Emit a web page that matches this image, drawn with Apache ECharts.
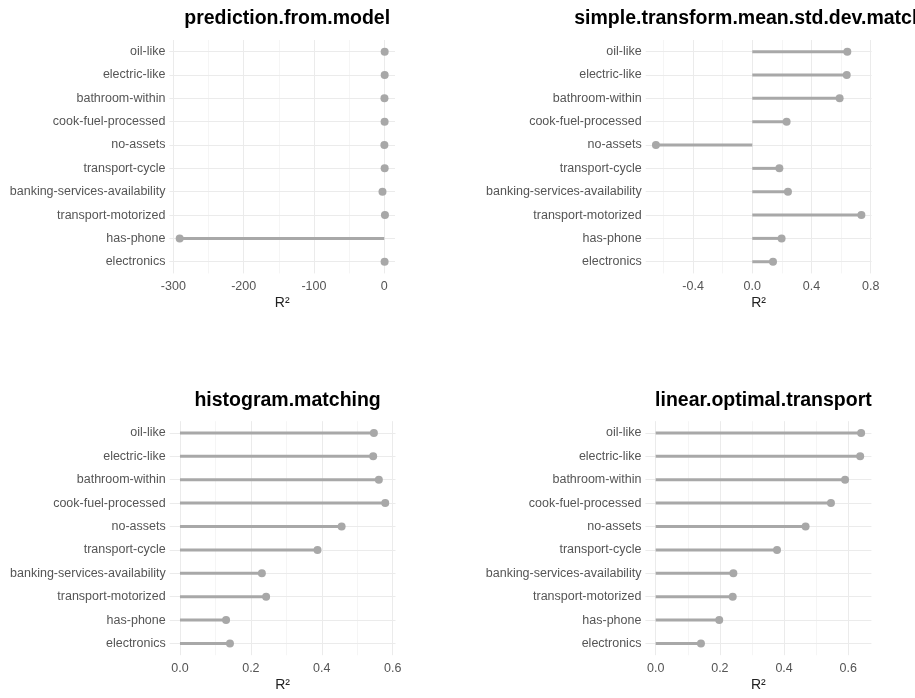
<!DOCTYPE html>
<html>
<head>
<meta charset="utf-8">
<script src="https://cdn.jsdelivr.net/npm/echarts@6/dist/echarts.min.js"></script>
<style>
html,body{margin:0;padding:0;background:#fff;}
#chart{width:915px;height:698px;}
</style>
</head>
<body>
<div id="chart"></div>
<script>
// ---- data ----
const categories = ['oil-like','electric-like','bathroom-within','cook-fuel-processed','no-assets','transport-cycle','banking-services-availability','transport-motorized','has-phone','electronics'];
const panelTitles = ['prediction.from.model','simple.transform.mean.std.dev.matching','histogram.matching','linear.optimal.transport'];
const predictionFromModel = [0.6, 0.6, 0.3, 0.5, 0.2, 0.6, -2.5, 1.0, -291, 0.5];
const simpleTransform = [0.642, 0.638, 0.59, 0.232, -0.651, 0.183, 0.241, 0.737, 0.198, 0.14];
const histogramMatching = [0.547, 0.545, 0.561, 0.579, 0.456, 0.388, 0.231, 0.243, 0.13, 0.141];
const linearOptimalTransport = [0.64, 0.637, 0.59, 0.546, 0.467, 0.378, 0.242, 0.24, 0.198, 0.141];
const ticks1 = [-300, -200, -100, 0];
const minor1 = [-250, -150, -50];
const ticks2 = [-0.4, 0.0, 0.4, 0.8];
const minor2 = [-0.6, -0.2, 0.2, 0.6];
const ticks3 = [0.0, 0.2, 0.4, 0.6];
const minor3 = [0.1, 0.3, 0.5];
const ticks4 = [0.0, 0.2, 0.4, 0.6];
const minor4 = [0.1, 0.3, 0.5];

// ---- layout ----
const panels = [
  {values: predictionFromModel, ticks: ticks1, minor: minor1, dec: 0, left: 169.4, width: 225.6, top: 40.0, height: 233.4, min: -305.6, max: 15.3},
  {values: simpleTransform, ticks: ticks2, minor: minor2, dec: 1, left: 645.7, width: 225.9, top: 40.0, height: 233.4, min: -0.72, max: 0.806},
  {values: histogramMatching, ticks: ticks3, minor: minor3, dec: 1, left: 169.7, width: 225.8, top: 421.2, height: 234.0, min: -0.029, max: 0.608},
  {values: linearOptimalTransport, ticks: ticks4, minor: minor4, dec: 1, left: 645.4, width: 226.0, top: 421.2, height: 234.0, min: -0.032, max: 0.672}
];

const FONT = 'Liberation Sans, Arial, Helvetica, sans-serif';
const GREY = '#a8a8a8';
const grid = [], xAxis = [], yAxis = [], series = [], title = [];

panels.forEach((p, i) => {
  grid.push({left: p.left, top: p.top, width: p.width, height: p.height, containLabel: false});
  title.push({
    text: panelTitles[i],
    left: p.left + p.width / 2,
    top: p.top - 36,
    textAlign: 'center',
    textStyle: {fontFamily: FONT, fontSize: 19.5, fontWeight: 'bold', color: '#000'}
  });
  xAxis.push({
    type: 'value', gridIndex: i, min: p.min, max: p.max,
    axisLine: {show: false}, axisTick: {show: false, customValues: p.ticks},
    splitLine: {show: false},
    axisLabel: {
      customValues: p.ticks, color: '#555', fontFamily: FONT, fontSize: 12.5, margin: 7,
      formatter: v => Number(v).toFixed(p.dec)
    },
    name: 'R\u00B2', nameLocation: 'middle', nameGap: 23,
    nameTextStyle: {fontFamily: FONT, fontSize: 14, color: '#222'}
  });
  yAxis.push({
    type: 'category', gridIndex: i, data: categories, inverse: true,
    axisLine: {show: false}, axisTick: {show: false}, splitLine: {show: false},
    axisLabel: {color: '#555', fontFamily: FONT, fontSize: 12.5, margin: 4}
  });
  // gridlines
  series.push({
    type: 'scatter', xAxisIndex: i, yAxisIndex: i, data: [], z: 0, silent: true,
    markLine: {
      silent: true, symbol: 'none', animation: false, label: {show: false}, z: 0,
      data: [
        ...p.minor.map(v => ({xAxis: v, lineStyle: {color: '#f2f2f2', width: 0.8, type: 'solid'}})),
        ...p.ticks.map(v => ({xAxis: v, lineStyle: {color: '#ebebeb', width: 1, type: 'solid'}})),
        ...categories.map(c => ({yAxis: c, lineStyle: {color: '#ebebeb', width: 1, type: 'solid'}}))
      ]
    }
  });
  series.push({
    type: 'bar', xAxisIndex: i, yAxisIndex: i, data: p.values, barWidth: 3,
    itemStyle: {color: GREY}, silent: true, z: 6
  });
  series.push({
    type: 'scatter', xAxisIndex: i, yAxisIndex: i,
    data: p.values.map((v, j) => [v, categories[j]]),
    symbol: 'circle', symbolSize: 8, itemStyle: {color: GREY, opacity: 1}, silent: true, z: 7
  });
});

const chart = echarts.init(document.getElementById('chart'), null, {renderer: 'canvas'});
chart.setOption({animation: false, backgroundColor: '#fff', title, grid, xAxis, yAxis, series});
</script>
</body>
</html>
